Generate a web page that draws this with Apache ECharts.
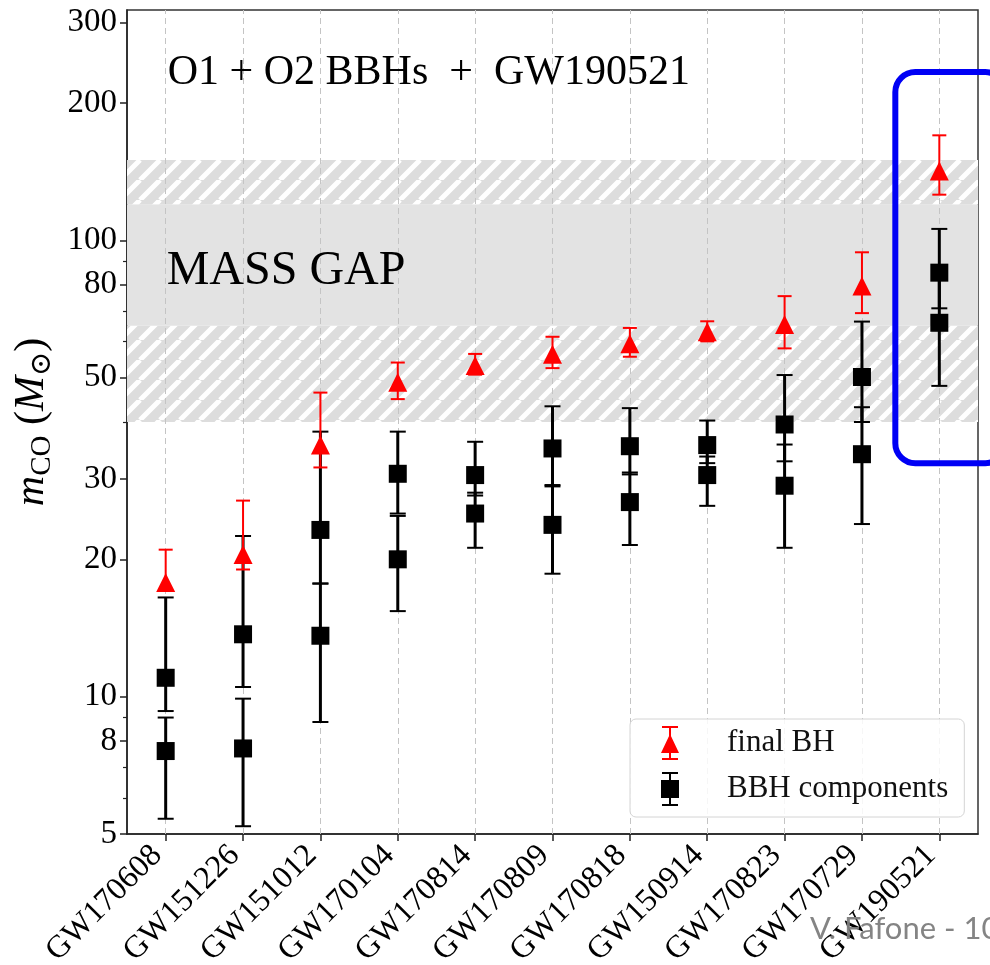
<!DOCTYPE html>
<html>
<head>
<meta charset="utf-8">
<script src="https://cdn.jsdelivr.net/npm/echarts@6/dist/echarts.min.js"></script>
<style>
  html, body { margin: 0; padding: 0; background: #fff; }
  #chart { width: 990px; height: 965px; }
</style>
</head>
<body>
<div id="chart"></div>
<script>
// Events ordered by final black-hole mass
const categories = ['GW170608', 'GW151226', 'GW151012', 'GW170104', 'GW170814',
  'GW170809', 'GW170818', 'GW150914', 'GW170823', 'GW170729', 'GW190521'];

// Primary component mass (median, +upper, -lower), solar masses
const m1 = [11.0, 13.7, 23.2, 30.8, 30.6, 35.0, 35.4, 35.6, 39.5, 50.2, 85];
const m1Plus = [5.5, 8.8, 14.9, 7.3, 5.6, 8.3, 7.5, 4.7, 11.2, 16.2, 21];
const m1Minus = [1.7, 3.2, 5.5, 5.6, 3.0, 5.9, 4.7, 3.1, 6.7, 10.2, 14];

// Secondary component mass
const m2 = [7.6, 7.7, 13.6, 20.0, 25.2, 23.8, 26.7, 30.6, 29.0, 34.0, 66];
const m2Plus = [1.4, 2.2, 4.1, 4.9, 2.8, 5.1, 4.3, 3.0, 6.7, 9.1, 17];
const m2Minus = [2.2, 2.5, 4.8, 4.6, 4.0, 5.2, 5.2, 4.4, 7.8, 10.1, 18];

// Final (remnant) black-hole mass
const mf = [17.8, 20.5, 35.6, 48.9, 53.2, 56.3, 59.4, 63.1, 65.4, 79.5, 142];
const mfPlus = [3.2, 6.4, 10.8, 5.1, 3.2, 5.2, 4.9, 3.4, 10.1, 14.7, 28];
const mfMinus = [0.7, 1.5, 3.8, 4.0, 2.4, 3.8, 3.8, 3.0, 7.4, 10.2, 16];

// Pair-instability mass gap: core range and uncertain edges
const gapCore = [65, 120];
const gapEdge = [40, 150];

// Y axis ticks
const majorTicks = [5, 8, 10, 20, 30, 50, 80, 100, 200, 300];
const minorTicks = [6, 7, 9, 40, 60, 70, 90];

const serif = '"Liberation Serif", "Times New Roman", "DejaVu Serif", serif';

// Diagonal white hatching on light grey
function makeHatch() {
  const p = 20;
  const c = document.createElement('canvas');
  c.width = p; c.height = p;
  const g = c.getContext('2d');
  g.fillStyle = '#dddddd';
  g.fillRect(0, 0, p, p);
  g.strokeStyle = '#ffffff';
  g.lineWidth = 5;
  g.beginPath();
  for (let k = -1; k <= 1; k++) {
    g.moveTo(k * p, p);
    g.lineTo(k * p + p, 0);
  }
  g.stroke();
  return { image: c, repeat: 'repeat' };
}
const hatch = makeHatch();

function errData(mid, plus, minus) {
  return mid.map((v, i) => [i, v - minus[i], v + plus[i]]);
}

function errRender(capHalf, width, color) {
  return function (params, api) {
    const x = api.value(0);
    const lo = api.coord([x, api.value(1)]);
    const hi = api.coord([x, api.value(2)]);
    return {
      type: 'group',
      children: [
        { type: 'line', shape: { x1: lo[0], y1: lo[1], x2: hi[0], y2: hi[1] }, style: { stroke: color, lineWidth: width } },
        { type: 'line', shape: { x1: lo[0] - capHalf, y1: lo[1], x2: lo[0] + capHalf, y2: lo[1] }, style: { stroke: color, lineWidth: 2 } },
        { type: 'line', shape: { x1: hi[0] - capHalf, y1: hi[1], x2: hi[0] + capHalf, y2: hi[1] }, style: { stroke: color, lineWidth: 2 } }
      ]
    };
  };
}

const iconFinal = 'path://M2 0H18V2H2Z M9 0H11V34H9Z M2 32H18V34H2Z M10 8L19 27H1Z';
const iconComp = 'path://M2 0H18V2H2Z M9 0H11V34H9Z M2 32H18V34H2Z M1 8H19V26H1Z';

const chart = echarts.init(document.getElementById('chart'), null, { renderer: 'canvas' });

const option = {
  animation: false,
  backgroundColor: '#ffffff',
  grid: {
    left: 127, right: 12, top: 10, bottom: 131,
    outerBoundsMode: 'none',
    containLabel: false,
    show: true, borderColor: '#333', borderWidth: 1.5, backgroundColor: 'transparent'
  },
  legend: {
    orient: 'vertical',
    left: 630, top: 719,
    padding: [7, 16, 11, 31],
    itemGap: 12,
    itemWidth: 20, itemHeight: 34,
    backgroundColor: 'rgba(255,255,255,0.85)',
    borderColor: '#d4d4d4', borderWidth: 1, borderRadius: 6,
    selectedMode: false,
    textStyle: { fontFamily: serif, fontSize: 31, color: '#111', padding: [0, 0, 0, 42] },
    data: [
      { name: 'final BH', icon: iconFinal },
      { name: 'BBH components', icon: iconComp }
    ]
  },
  xAxis: {
    type: 'category',
    data: categories,
    boundaryGap: true,
    axisLine: { show: true, lineStyle: { color: '#222', width: 1.5 } },
    axisTick: { show: true, alignWithLabel: true, length: 7, lineStyle: { color: '#222', width: 1.5 } },
    axisLabel: { interval: 0, rotate: 45, margin: 8, padding: [0, 12, 0, 0], fontFamily: serif, fontSize: 32, color: '#000' },
    splitLine: { show: false }
  },
  yAxis: [
    {
      type: 'log', logBase: 10, min: 5, max: 320,
      axisLine: { show: true, lineStyle: { color: '#222', width: 1.5 } },
      axisTick: { show: true, length: 7, customValues: majorTicks, lineStyle: { color: '#222', width: 1.5 } },
      axisLabel: { customValues: majorTicks, margin: 10, fontFamily: serif, fontSize: 33, color: '#000' },
      splitLine: { show: false },
      name: '{m|m}{sub|CO}{n| (}{M|M}{sub|⊙}{n|)}',
      nameLocation: 'middle',
      nameGap: 67,
      nameRotate: 90,
      nameTextStyle: {
        rich: {
          m: { fontFamily: serif, fontStyle: 'italic', fontSize: 42, color: '#000', lineHeight: 50, verticalAlign: 'middle' },
          M: { fontFamily: serif, fontStyle: 'italic', fontSize: 42, color: '#000', lineHeight: 50, verticalAlign: 'middle' },
          n: { fontFamily: serif, fontSize: 42, color: '#000', lineHeight: 50, verticalAlign: 'middle' },
          sub: { fontFamily: serif, fontSize: 29, color: '#000', lineHeight: 26, verticalAlign: 'bottom' }
        }
      }
    },
    {
      type: 'log', logBase: 10, min: 5, max: 320, position: 'left',
      axisLine: { show: false },
      axisTick: { show: true, length: 4, customValues: minorTicks, lineStyle: { color: '#222', width: 1.2 } },
      axisLabel: { show: false },
      splitLine: { show: false }
    }
  ],
  series: [
    {
      // mass-gap band
      name: 'mass gap',
      type: 'line',
      data: [],
      silent: true,
      z: 1,
      markArea: {
        silent: true,
        z: 1,
        emphasis: { disabled: true },
        label: { show: false },
        data: [
          [{ yAxis: gapEdge[0], itemStyle: { color: hatch, opacity: 1 } }, { yAxis: gapCore[0] }],
          [{ yAxis: gapCore[0], itemStyle: { color: '#e3e3e3', opacity: 1 } }, { yAxis: gapCore[1] }],
          [{ yAxis: gapCore[1], itemStyle: { color: hatch, opacity: 1 } }, { yAxis: gapEdge[1] }]
        ]
      }
    },
    {
      // dashed guide through each event
      name: 'guides',
      type: 'line',
      data: [],
      silent: true,
      z: 2,
      markLine: {
        silent: true,
        z: 2,
        symbol: ['none', 'none'],
        label: { show: false },
        emphasis: { disabled: true },
        lineStyle: { color: '#c4c4c4', width: 1, type: [6, 4] },
        data: categories.map(c => ({ xAxis: c }))
      }
    },
    {
      name: 'm1 err', type: 'custom', z: 3, silent: true,
      renderItem: errRender(8, 3, '#000'),
      encode: { x: 0, y: [1, 2] },
      data: errData(m1, m1Plus, m1Minus)
    },
    {
      name: 'm2 err', type: 'custom', z: 3, silent: true,
      renderItem: errRender(8, 3, '#000'),
      encode: { x: 0, y: [1, 2] },
      data: errData(m2, m2Plus, m2Minus)
    },
    {
      name: 'BBH components', type: 'scatter', z: 4,
      symbol: 'rect', symbolSize: 18,
      itemStyle: { color: '#000', opacity: 1 },
      data: m1.map((v, i) => [i, v])
    },
    {
      name: 'BBH components', type: 'scatter', z: 4,
      symbol: 'rect', symbolSize: 18,
      itemStyle: { color: '#000', opacity: 1 },
      data: m2.map((v, i) => [i, v])
    },
    {
      name: 'mf err', type: 'custom', z: 5, silent: true,
      renderItem: errRender(7, 2, '#ff0000'),
      encode: { x: 0, y: [1, 2] },
      data: errData(mf, mfPlus, mfMinus)
    },
    {
      name: 'final BH', type: 'scatter', z: 6,
      symbol: 'triangle', symbolSize: [19, 19],
      itemStyle: { color: '#ff0000', opacity: 1 },
      data: mf.map((v, i) => [i, v])
    }
  ]
};

chart.setOption(option);

// Annotations placed through the chart's coordinate system
const lastX = chart.convertToPixel({ xAxisIndex: 0 }, categories[categories.length - 1]);
const firstX = chart.convertToPixel({ xAxisIndex: 0 }, categories[0]);
const boxTop = chart.convertToPixel({ yAxisIndex: 0 }, 234);
const boxBottom = chart.convertToPixel({ yAxisIndex: 0 }, 32.5);

chart.setOption({
  graphic: [
    {
      type: 'text', z: 10, silent: true,
      style: {
        x: firstX + 2, y: 73,
        text: 'O1 + O2 BBHs  +  GW190521',
        font: '42px ' + serif, fill: '#000', verticalAlign: 'middle'
      }
    },
    {
      type: 'text', z: 10, silent: true,
      style: {
        x: firstX + 1, y: 271,
        text: 'MASS GAP',
        font: '48px ' + serif, fill: '#000', verticalAlign: 'middle'
      }
    },
    {
      type: 'rect', z: 20, silent: true,
      shape: { x: lastX - 44, y: boxTop, width: 110, height: boxBottom - boxTop, r: 20 },
      style: { fill: 'none', stroke: '#0000f5', lineWidth: 6 }
    },
    {
      type: 'text', z: 30, silent: true,
      style: {
        x: 810, y: 929,
        text: 'V. Fafone - 106',
        font: '31px Lato, "Open Sans", sans-serif', fill: '#7d7d7d', opacity: 0.95, verticalAlign: 'middle'
      }
    }
  ]
});
</script>
</body>
</html>
